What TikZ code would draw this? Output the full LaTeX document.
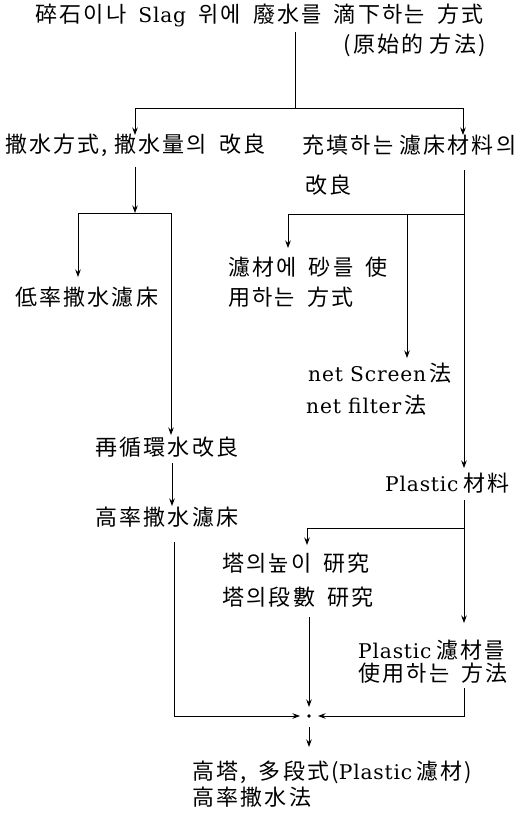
\documentclass[tikz,border=0pt]{standalone}
\usepackage{fontspec}
\setmainfont{Noto Sans CJK KR}[LetterSpace=10,WordSpace=1.7]
\newfontfamily\lat{DejaVu Serif}[Scale=0.92,LetterSpace=4]
\usetikzlibrary{arrows.meta}
\begin{document}
\begin{tikzpicture}[x=1pt,y=-1pt,
  lbl/.style={inner sep=0pt, anchor=west, font=\fontsize{22}{26}\selectfont},
  ln/.style={line width=0.8pt},
  arr/.style={ln, -{Stealth[length=7.5pt,width=5.5pt]}}]
\useasboundingbox (0,0) rectangle (521,815);
% texts
\node[lbl] (t1) at (35,15) {碎石이나 {\lat Slag} 위에 廢水를 滴下하는 方式};
\node[lbl,anchor=east] (t2) at (486,45) {(原始的\hspace{6pt}方法)};
\node[lbl] (a) at (5,145) {撒水方式,\hspace{6pt}撒水量의 改良};
\node[lbl] (b1) at (302,145) {充填하는\hspace{6pt}濾床材料의};
\node[lbl] (b2) at (305,185) {改良};
\node[lbl] (c) at (15,297) {低率撒水濾床};
\node[lbl] (d1) at (228,267) {濾材에 砂를 使};
\node[lbl] (d2) at (228,297) {用하는 方式};
\node[lbl] (e1) at (308,373) {{\lat net Screen}\hspace{3pt}法};
\node[lbl] (e2) at (306,405) {{\lat net filter}\hspace{3pt}法};
\node[lbl] (f) at (95,447) {再循環水改良};
\node[lbl] (g) at (385,483) {{\lat Plastic}\hspace{5pt}材料};
\node[lbl] (h) at (95,517) {高率撒水濾床};
\node[lbl] (i1) at (222,563) {塔의높이 研究};
\node[lbl] (i2) at (222,597) {塔의段數 研究};
\node[lbl] (k1) at (358,650) {{\lat Plastic}\hspace{5pt}濾材를};
\node[lbl] (k2) at (358,673) {使用하는 方法};
\node[lbl] (m1) at (192,772) {高塔, 多段式({\lat Plastic}\hspace{4pt}濾材)};
\node[lbl] (m2) at (192,797) {高率撒水法};
% junctions
\coordinate (p0) at (295,32);
\coordinate (p1) at (295,108);
\coordinate (aT) at (135,135);
\coordinate (bT) at (463,135);
\coordinate (q0) at (135,167);
\coordinate (q1) at (135,213);
\coordinate (q2) at (78,277);
\coordinate (q3) at (171,435);
\coordinate (r0) at (172,463);
\coordinate (r1) at (172,506);
\coordinate (s0) at (174,542);
\coordinate (s1) at (300,716);
\coordinate (dot) at (309,716);
\coordinate (u0) at (309,617);
\coordinate (u1) at (309,707);
\coordinate (v0) at (464,688);
\coordinate (v1) at (318,716);
\coordinate (w0) at (309,727);
\coordinate (w1) at (309,747);
\coordinate (x0) at (464,170);
\coordinate (x1) at (464,214);
\coordinate (x2) at (288,248);
\coordinate (x3) at (407,358);
\coordinate (x4) at (464,468);
\coordinate (y0) at (464,500);
\coordinate (y1) at (464,528);
\coordinate (y2) at (307,545);
\coordinate (y3) at (464,623);
% connectors
\draw[ln] (p0) -- (p1);
\draw[arr] (p1) -| (aT);
\draw[arr] (p1) -| (bT);
\draw[arr] (q0) -- (q1);
\draw[arr] (q1) -| (q2);
\draw[arr] (q1) -| (q3);
\draw[arr] (r0) -- (r1);
\draw[arr] (s0) |- (s1);
\draw[arr] (u0) -- (u1);
\draw[arr] (v0) |- (v1);
\draw[arr] (w0) -- (w1);
\fill (dot) circle (1.8pt);
\draw[ln] (x0) -- (x1);
\draw[arr] (x1) -| (x2);
\draw[arr] (x1) -| (x3);
\draw[arr] (x1) -- (x4);
\draw[ln] (y0) -- (y1);
\draw[arr] (y1) -| (y2);
\draw[arr] (y1) -- (y3);
\end{tikzpicture}
\end{document}
